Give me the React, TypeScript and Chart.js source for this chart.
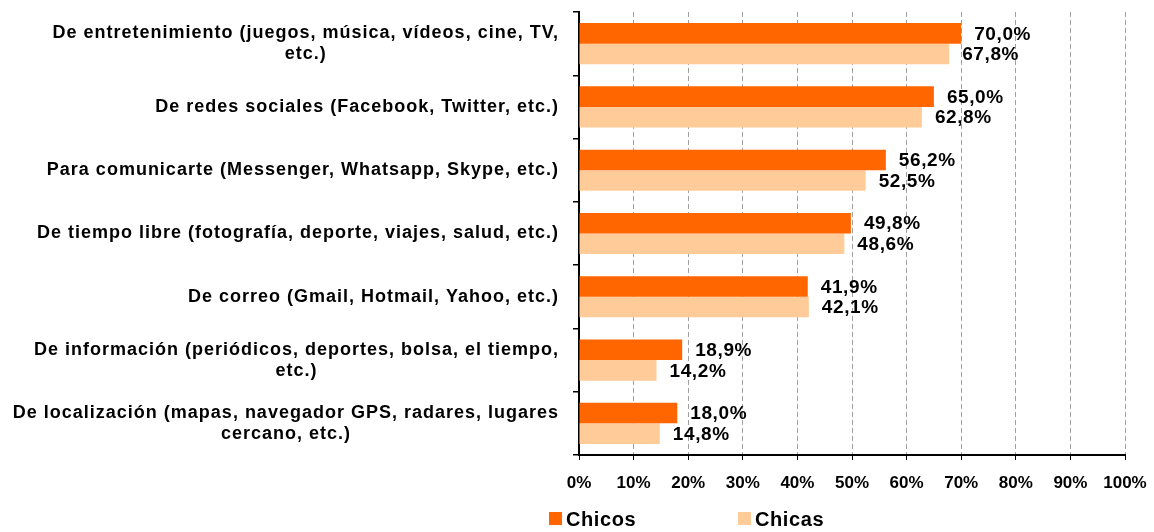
import React, { useEffect, useRef } from "react";
import { Chart, registerables } from "chart.js";

Chart.register(...registerables);

const categories: string[][] = [
  ["De entretenimiento (juegos, música, vídeos, cine, TV,", "etc.)"],
  ["De redes sociales (Facebook, Twitter, etc.)"],
  ["Para comunicarte (Messenger, Whatsapp, Skype, etc.)"],
  ["De tiempo libre (fotografía, deporte, viajes, salud, etc.)"],
  ["De correo (Gmail, Hotmail, Yahoo, etc.)"],
  ["De información (periódicos, deportes, bolsa, el tiempo,", "etc.)"],
  ["De localización (mapas, navegador GPS, radares, lugares", "cercano, etc.)"],
];

const chicos: number[] = [70.0, 65.0, 56.2, 49.8, 41.9, 18.9, 18.0];
const chicas: number[] = [67.8, 62.8, 52.5, 48.6, 42.1, 14.2, 14.8];

const seriesNames: string[] = ["Chicos", "Chicas"];
const seriesColors: string[] = ["#FF6600", "#FFCC99"];

const FONT = '"Liberation Sans", Arial, sans-serif';

const fmt = (v: number) => v.toFixed(1).replace(".", ",") + "%";

const textPlugin = {
  id: "customText",
  afterDraw(chart: any) {
    const ctx: CanvasRenderingContext2D = chart.ctx;
    const y = chart.scales.y;
    const area = chart.chartArea;
    ctx.save();
    ctx.fillStyle = "#000";
    // category labels: block right-aligned, lines centered in block
    ctx.font = `bold 18px ${FONT}`;
    (ctx as any).letterSpacing = "1px";
    ctx.textBaseline = "middle";
    ctx.textAlign = "center";
    categories.forEach((lines, i) => {
      const cy = y.getPixelForTick(i);
      const w = Math.max(...lines.map((l) => ctx.measureText(l).width));
      const cx = area.left - 20 - w / 2;
      const lh = 21;
      lines.forEach((l, j) => {
        ctx.fillText(l, cx, cy + (j - (lines.length - 1) / 2) * lh);
      });
    });
    // data labels
    ctx.textAlign = "left";
    ctx.font = `bold 19px ${FONT}`;
    (ctx as any).letterSpacing = "0.6px";
    chart.data.datasets.forEach((ds: any, di: number) => {
      const meta = chart.getDatasetMeta(di);
      meta.data.forEach((bar: any, i: number) => {
        ctx.fillText(fmt(ds.data[i]), bar.x + 13, bar.y + 1);
      });
    });
    // legend
    ctx.font = `bold 20px ${FONT}`;
    (ctx as any).letterSpacing = "0.6px";
    const ly = chart.height - 13;
    const lx = [area.left - 30, area.left + 159];
    seriesNames.forEach((name, i) => {
      ctx.fillStyle = seriesColors[i];
      ctx.fillRect(lx[i], ly - 7, 13, 13);
      ctx.fillStyle = "#000";
      ctx.fillText(name, lx[i] + 17, ly + 1);
    });
    ctx.restore();
  },
};

export default function App() {
  const ref = useRef<HTMLCanvasElement | null>(null);
  useEffect(() => {
    if (!ref.current) return;
    const chart = new Chart(ref.current, {
      type: "bar",
      data: {
        labels: categories.map((c) => c.join(" ")),
        datasets: [
          {
            label: seriesNames[0],
            data: chicos,
            backgroundColor: seriesColors[0],
            barPercentage: 1,
            categoryPercentage: 0.65,
          },
          {
            label: seriesNames[1],
            data: chicas,
            backgroundColor: seriesColors[1],
            barPercentage: 1,
            categoryPercentage: 0.65,
          },
        ],
      },
      options: {
        indexAxis: "y",
        responsive: false,
        animation: false,
        layout: { padding: { left: 0, right: 29, top: 12, bottom: 37 } },
        plugins: {
          legend: { display: false },
          tooltip: { enabled: false },
        },
        scales: {
          x: {
            min: 0,
            max: 100,
            ticks: {
              stepSize: 10,
              callback: (v: any) => v + "%",
              color: "#000",
              font: { family: FONT, size: 17, weight: "bold" },
              padding: 13,
            },
            grid: {
              color: "#a0a0a0",
              tickColor: "#000",
              tickLength: 5,
              tickBorderDash: [],
            } as any,
            border: { color: "#000", width: 2, dash: [5, 3] } as any,
            afterFit: (s: any) => {
              s.height = 40;
              s.paddingRight = 0;
              s.paddingLeft = 0;
            },
          },
          y: {
            type: "category",
            ticks: { display: false },
            grid: {
              offset: true,
              drawOnChartArea: false,
              drawTicks: true,
              tickLength: 6,
              color: "#000",
              lineWidth: 1.5,
            },
            border: { color: "#000", width: 2 },
            afterFit: (s: any) => {
              s.width = 579;
            },
          },
        },
      } as any,
      plugins: [textPlugin],
    });
    return () => chart.destroy();
  }, []);
  return (
    <div style={{ position: "fixed", left: 0, top: 0, width: 1154, height: 532, background: "#fff" }}>
      <canvas ref={ref} width={1154} height={532} />
    </div>
  );
}
